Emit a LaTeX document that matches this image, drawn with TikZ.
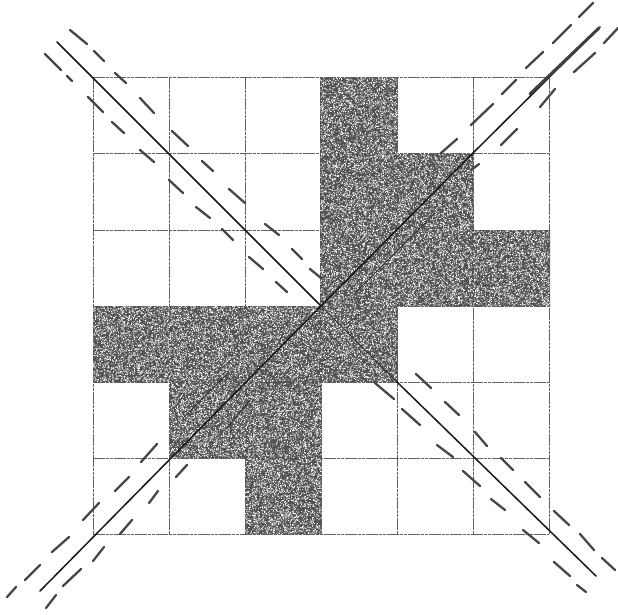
\documentclass[tikz,border=0pt]{standalone}
\newcommand{\speckrect}[5]{%
  \foreach \batch in {1,...,#5}{%
    \foreach \i in {1,...,100}{%
      \pgfmathsetmacro{\rx}{#1+rnd*#3}%
      \pgfmathsetmacro{\ry}{#2+rnd*#4}%
      \pgfpathrectangle{\pgfqpoint{\rx pt}{-\ry pt}}{\pgfqpoint{0.8pt}{0.8pt}}%
    }%
    \pgfusepath{fill}%
  }%
}
\tikzset{
  gridline/.style={draw=black!62,line width=0.55pt,dash pattern=on 3.5pt off 0.7pt},
  solidline/.style={draw=black!90,line width=1.5pt,line cap=round},
  dashpiece/.style={draw=black!72,line width=2.3pt,line cap=round},
  faintpiece/.style={draw=black!80,line width=1pt,line cap=round},
}
\begin{document}
\begin{tikzpicture}[x=1pt,y=-1pt]
\useasboundingbox (0,0) rectangle (618,614);
\fill[white] (0,0) rectangle (618,614);
% grid
\foreach \gx in {93,169,245,321,397,473,549}
  \draw[gridline] (\gx,77) -- (\gx,534);
\foreach \gy in {77,153,230,306,382,458,534}
  \draw[gridline] (93,\gy) -- (549,\gy);
% shaded cells
\fill[black!68] (320,78) -- (397,78) -- (397,154) -- (473,154) -- (473,230) -- (550,230) -- (550,306)
  -- (397,306) -- (398,382) -- (321,382) -- (321,534) -- (246,534) -- (246,458) -- (170,458)
  -- (170,382) -- (93,382) -- (93,306) -- (320,306) -- cycle;
\pgfmathsetseed{4711}
\begin{scope}
\pgfsetfillcolor{white}
\speckrect{320}{78.8}{76.5}{303.2}{100}
\speckrect{397}{154.8}{75.2}{151.2}{50}
\speckrect{473}{230.8}{76.2}{75.2}{25}
\speckrect{93}{306.8}{226.2}{75.2}{75}
\speckrect{170}{382.8}{150.2}{75.2}{50}
\speckrect{246}{458.8}{74.2}{75.2}{25}
\end{scope}
% faint traces inside shading
\foreach \a/\b/\c/\d in {184/417/228/373, 227/428/250/400, 355/293/435/213, 321/306/397/382}
  \draw[faintpiece] (\a,\b) -- (\c,\d);
% solid diagonals
\draw[solidline] (57,42) -- (321,306);
\draw[solidline] (397,382) -- (596,576);
\draw[solidline] (40,591) -- (321,306) -- (473,153) -- (600,27);
\draw[draw=black!75,line width=3pt,line cap=round] (530,94) -- (599,28);
% dashes, upper-right of the first diagonal
\foreach \a/\b/\c/\d in {70/30/87/44, 94/51/104/61, 115/73/126/83, 140/98/154/113, 172/131/188/146,
  202/161/213/171, 229/189/245/203, 265/224/279/235, 292/249/302/259, 310/269/321/278,
  416/374/431/388, 445/402/459/415, 475/432/487/446, 501/458/513/470, 525/482/540/497,
  554/511/569/525, 580/534/594/550, 602/558/615/570}
  \draw[dashpiece] (\a,\b) -- (\c,\d);
% dashes, lower-left of the first diagonal
\foreach \a/\b/\c/\d in {45/54/61/70, 67/76/72/81, 88/97/103/112, 112/122/124/133, 140/150/154/162,
  169/180/183/193, 196/207/210/218, 222/229/233/240, 249/257/263/269, 276/282/287/292,
  375/383/394/399, 402/409/420/425, 437/445/453/457, 463/471/480/486, 491/499/505/510,
  523/530/539/543, 554/562/570/576, 577/585/586/592}
  \draw[dashpiece] (\a,\b) -- (\c,\d);
% dashes, upper-left of the second diagonal
\foreach \a/\b/\c/\d in {441/153/457/139, 471/125/493/104, 502/94/516/80, 526/68/543/52,
  553/43/571/25, 579/17/593/3, 141/462/157/444, 115/491/129/477, 83/520/99/503,
  52/552/69/537, 25/580/40/565, 7/597/16/587}
  \draw[dashpiece] (\a,\b) -- (\c,\d);
% dashes, lower-right of the second diagonal
\foreach \a/\b/\c/\d in {471/170/479/164, 501/145/517/129, 540/107/555/89, 574/72/595/53,
  604/43/618/28, 176/477/187/465, 149/503/158/491, 120/534/132/520, 93/561/104/547,
  63/586/81/569, 46/608/56/595}
  \draw[dashpiece] (\a,\b) -- (\c,\d);
\end{tikzpicture}
\end{document}
